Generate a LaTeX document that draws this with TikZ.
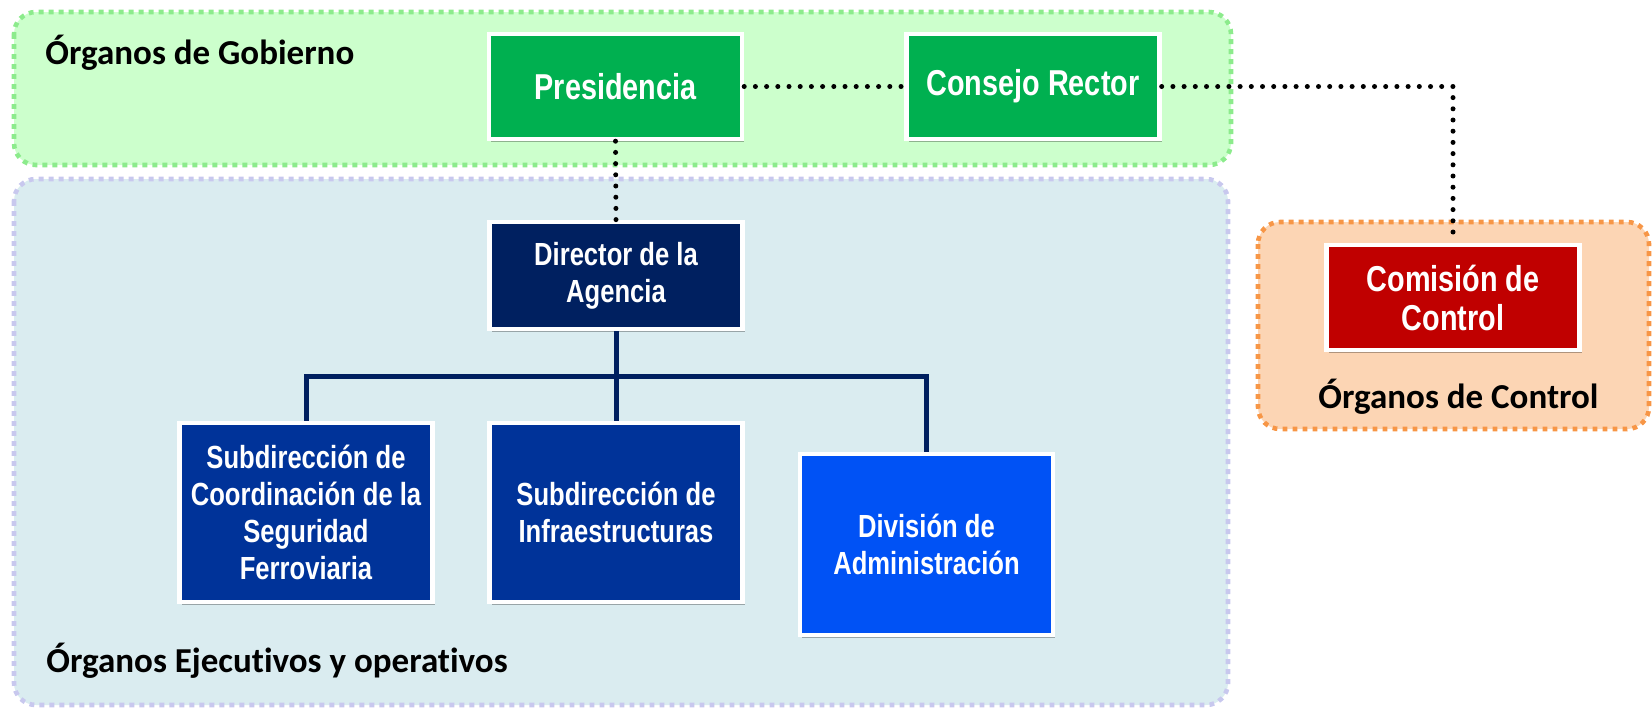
\documentclass[tikz,border=0pt]{standalone}
\usepackage{fontspec}
\setmainfont{Carlito}[Ligatures=NoCommon]
\newfontfamily\boxfont{Liberation Sans}[FakeStretch=0.8]
\usetikzlibrary{shadows}
\definecolor{govfill}{RGB}{204,255,204}
\definecolor{govline}{RGB}{140,235,140}
\definecolor{exefill}{RGB}{218,236,240}
\definecolor{exeline}{RGB}{200,200,238}
\definecolor{ctlfill}{RGB}{252,213,180}
\definecolor{ctlline}{RGB}{247,150,70}
\definecolor{greenbox}{RGB}{0,176,80}
\definecolor{navybox}{RGB}{0,32,96}
\definecolor{bluebox}{RGB}{0,51,153}
\definecolor{brightbox}{RGB}{0,82,245}
\definecolor{redbox}{RGB}{192,0,0}
\definecolor{treeline}{RGB}{0,32,96}
\begin{document}
\begin{tikzpicture}[x=0.5pt,y=-0.5pt,
  band/.style={rounded corners=11pt, line width=2.3pt, dash pattern=on 2.4pt off 2.6pt},
  grouplabel/.style={font=\bfseries\fontsize{17.5}{20}\selectfont, inner sep=0pt, text=black},
  orgbox/.style={draw=white, line width=2.2pt, minimum width=126.5pt, text=white,
    align=center, inner sep=0pt,
    drop shadow={shadow xshift=1.2pt, shadow yshift=-1.5pt, opacity=0.3, fill=black}},
  bigtext/.style={font=\boxfont\bfseries\fontsize{18}{19.5}\selectfont},
  smalltext/.style={font=\boxfont\bfseries\fontsize{16}{18.5}\selectfont},
  dotline/.style={black, line width=2.5pt, line cap=round, dash pattern=on 0pt off 5.6pt},
  treeedge/.style={treeline, line width=2.5pt}
]
\useasboundingbox (0,0) rectangle (1652,708);
% group regions
\draw[band, fill=govfill, draw=govline] (14,12) rectangle (1231,165);
\draw[band, fill=exefill, draw=exeline] (14,179) rectangle (1228,705);
\draw[band, fill=ctlfill, draw=ctlline] (1258,222) rectangle (1649,429);
% group labels
\node[grouplabel, anchor=base west] (lgov) at (45,64) {Órganos de Gobierno};
\node[grouplabel, anchor=base west] (lexe) at (46,672) {Órganos Ejecutivos y operativos};
\node[grouplabel, anchor=base west] (lctl) at (1318,408) {Órganos de Control};
% boxes
\node[orgbox, bigtext, fill=greenbox, minimum height=52.5pt] (pres) at (615.5,86.5) {Presidencia};
\node[orgbox, bigtext, fill=greenbox, minimum height=52.5pt] (cons) at (1033,86.5) {Consejo Rector};
\node[orgbox, smalltext, fill=navybox, minimum height=53.5pt] (dir) at (616,275.5) {Director de la\\Agencia};
\node[orgbox, bigtext, fill=redbox, minimum height=52.5pt] (com) at (1453,297.5) {Comisión de\\Control};
\node[orgbox, smalltext, fill=bluebox, minimum height=89.5pt] (sub1) at (306,512.5) {Subdirección de\\Coordinación de la\\Seguridad\\Ferroviaria};
\node[orgbox, smalltext, fill=bluebox, minimum height=89.5pt] (sub2) at (616,512.5) {Subdirección de\\Infraestructuras};
\node[orgbox, smalltext, fill=brightbox, minimum height=90.5pt] (div) at (926.5,544.5) {División de\\Administración};
% tree
\coordinate (j) at (616,376);
\draw[treeedge] (dir.south) -- (j);
\draw[treeedge] (j) -- (sub2.north);
\draw[treeedge] (sub1.north) |- (j) -| (div.north);
% dotted links
\draw[dotline] (pres.east) -- (cons.west);
\draw[dotline] (pres.south) -- (dir.north);
\draw[dotline] (cons.east) -| (com.north);
\end{tikzpicture}
\end{document}
